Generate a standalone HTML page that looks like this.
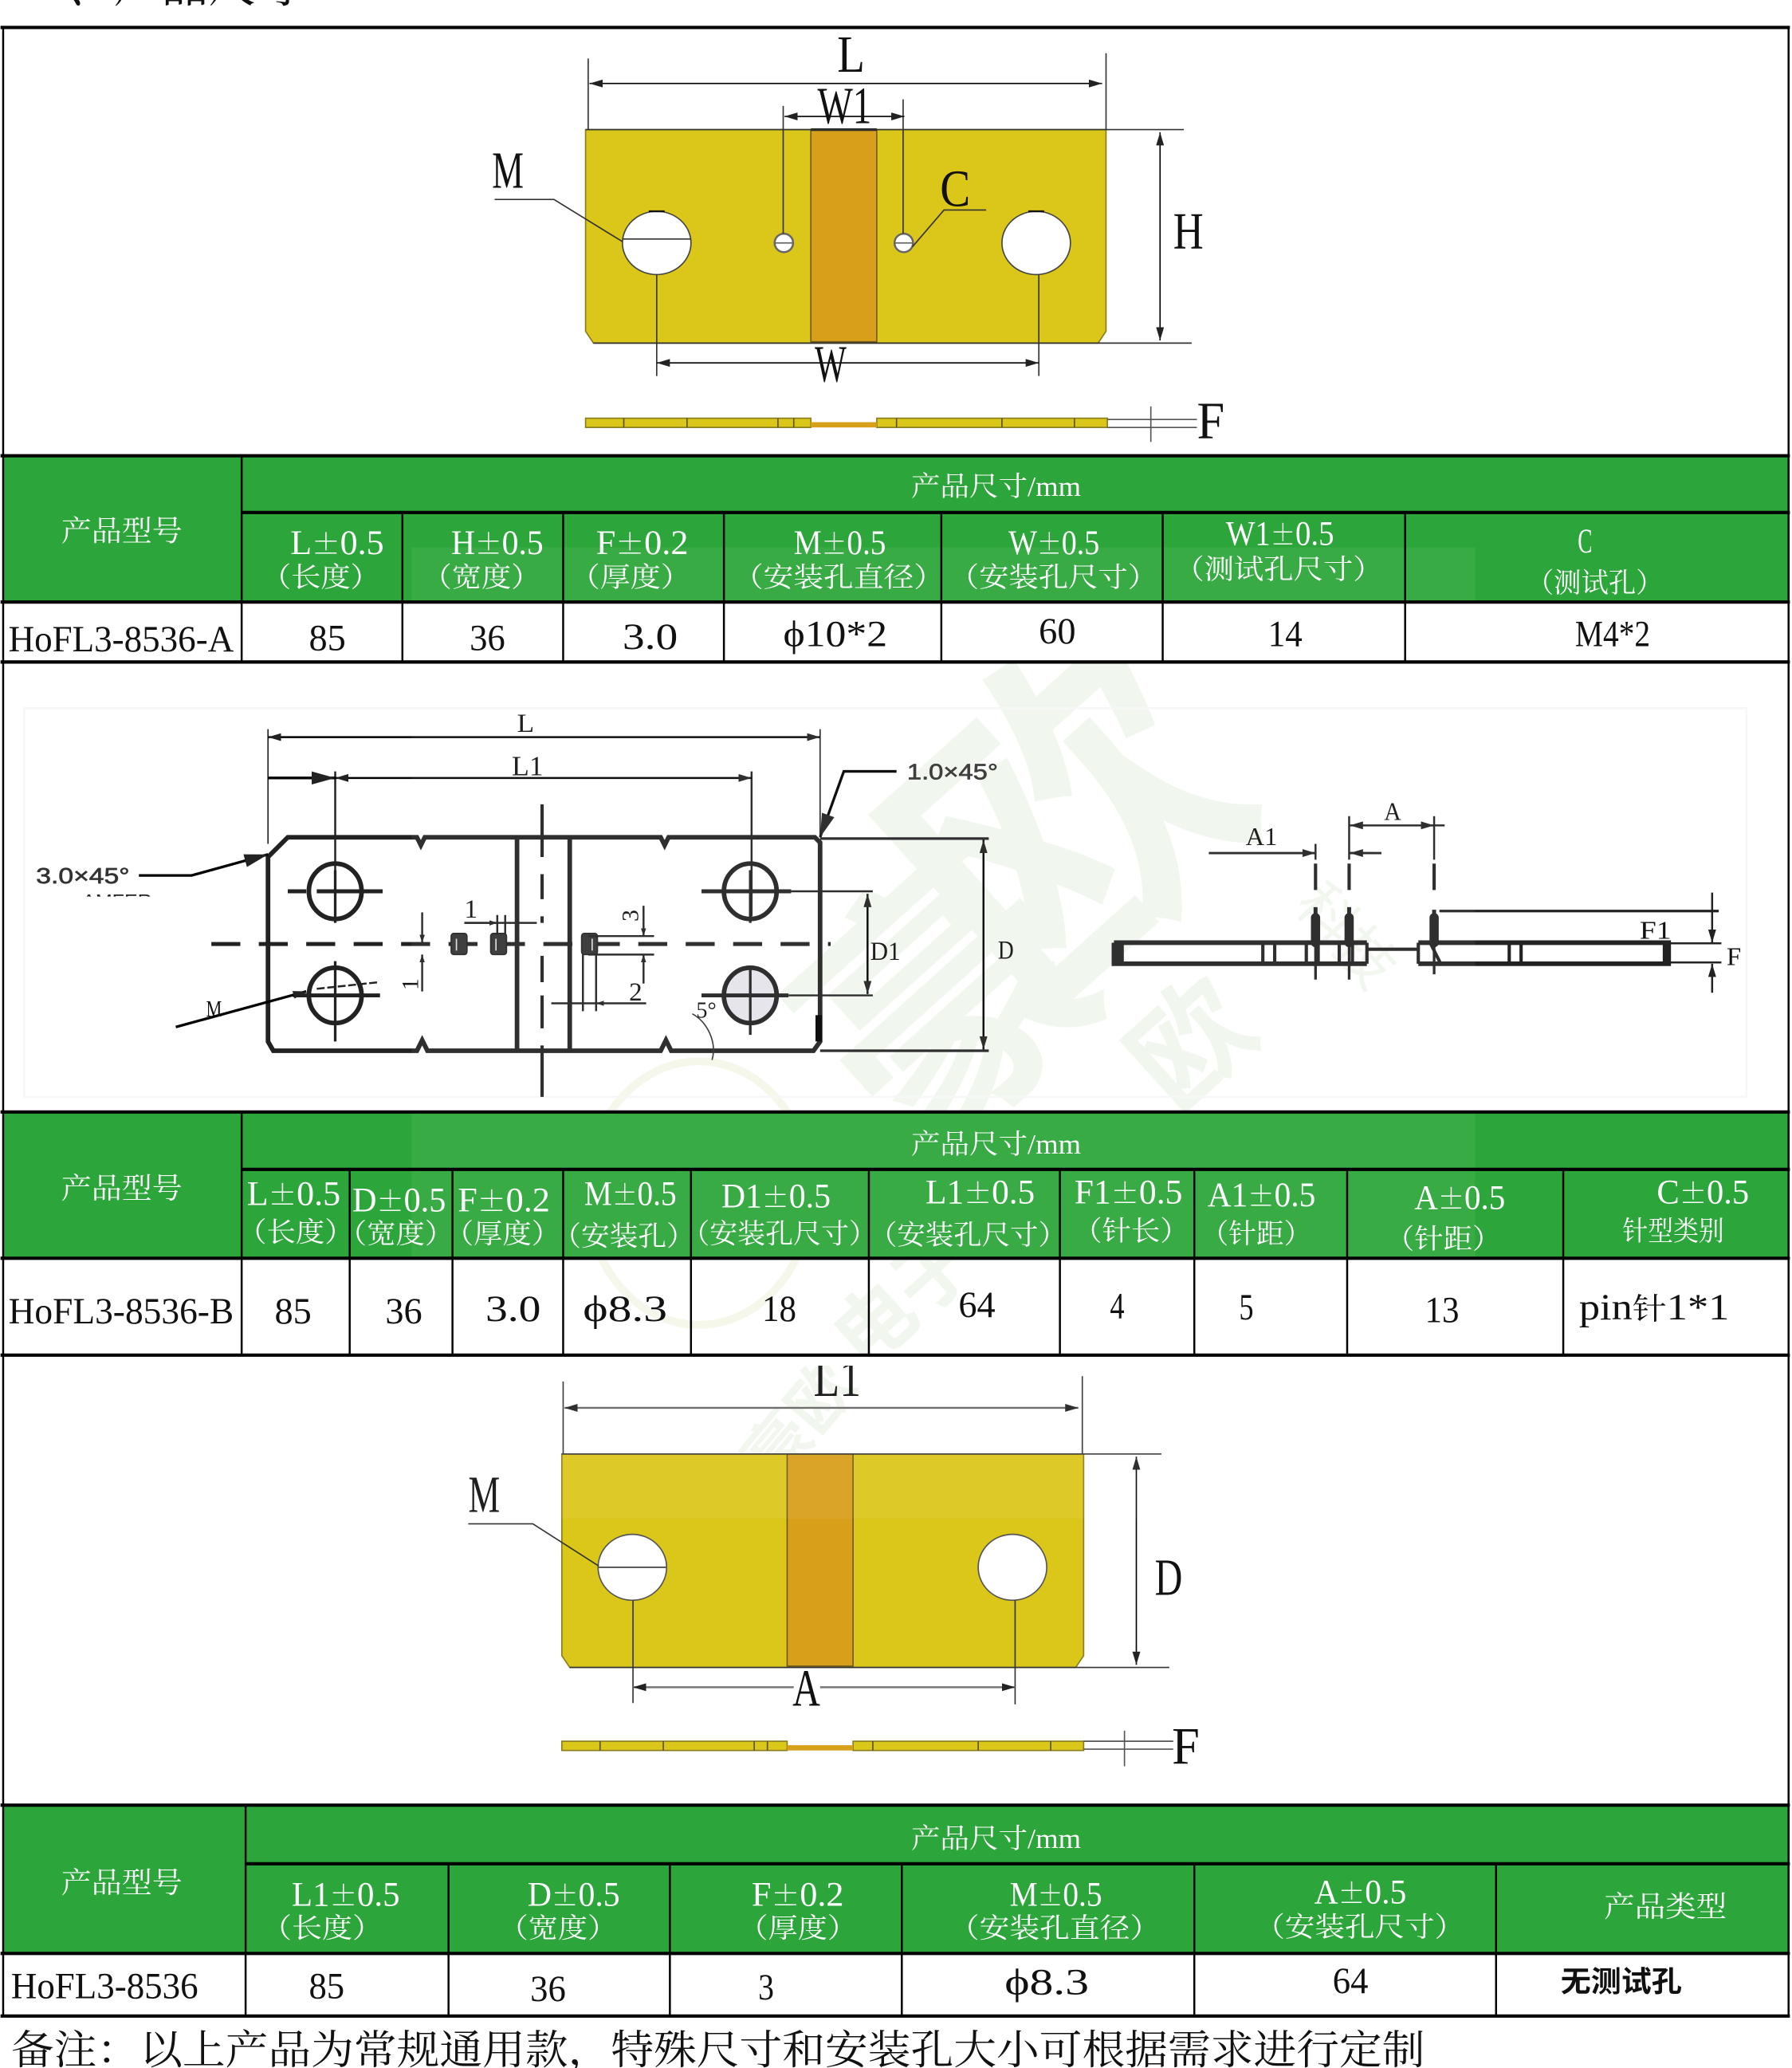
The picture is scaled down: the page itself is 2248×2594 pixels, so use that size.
<!DOCTYPE html>
<html><head><meta charset="utf-8"><style>
html,body{margin:0;padding:0;background:#fff}
svg{display:block}
text{font-family:"Liberation Serif","Noto Serif CJK SC",serif}
.h{fill:#fff;font-size:21px}
.d{fill:#111;font-size:28px}
.n{font-size:26px}
.p{font-family:"Noto Serif CJK SC",serif;font-size:21px}
.c{font-size:23px;font-family:"Noto Serif CJK SC",serif}
.l{fill:#111}
.wm{fill:#f1f7ee;font-family:"Noto Sans CJK SC",sans-serif;font-weight:700;text-anchor:middle}
.k{stroke:#000;fill:none}
.t{stroke:#333;stroke-width:1;fill:none}
.b{stroke:#222;stroke-width:2;fill:none}
</style></head><body>
<svg xmlns="http://www.w3.org/2000/svg" width="2248" height="2594" viewBox="0 0 1360 1569">
<defs>
<marker id="a" viewBox="0 0 10 6" refX="10" refY="3" markerWidth="10" markerHeight="6" markerUnits="userSpaceOnUse" orient="auto-start-reverse"><path d="M0 0L10 3L0 6z" fill="#222"/></marker>
<marker id="s" viewBox="0 0 6 4" refX="6" refY="2" markerWidth="6" markerHeight="4" markerUnits="userSpaceOnUse" orient="auto-start-reverse"><path d="M0 0L6 2L0 4z" fill="#222"/></marker>
<marker id="B" viewBox="0 0 18 10" refX="18" refY="5" markerWidth="18" markerHeight="10" markerUnits="userSpaceOnUse" orient="auto"><path d="M0 0L18 5L0 10z" fill="#222"/></marker>
<clipPath id="cp"><rect x="40" y="674" width="100" height="6"/></clipPath>
<clipPath id="wmc"><rect x="3" y="503" width="1353" height="340"/><rect x="3" y="956" width="1353" height="198"/></clipPath>
</defs>
<rect width="1360" height="1569" fill="#fff"/>
<g transform="translate(0.400,0.200)">
<text x="14" y="1" font-size="36" fill="#111">二、产品尺寸</text>

<!-- green header blocks -->
<rect x="2" y="346" width="1355" height="110" fill="#2ca63a"/>
<rect x="2" y="844" width="1355" height="110" fill="#2ca63a"/>
<rect x="2" y="1370" width="1355" height="112" fill="#2ca63a"/>

<!-- watermark -->
<g clip-path="url(#wmc)">
<text class="wm" font-size="250" transform="translate(870,690) rotate(-42)">欧</text>
<text class="wm" font-size="210" transform="translate(770,815) rotate(-42)">豪</text>
<text class="wm" font-size="90" transform="translate(925,815) rotate(-42)">欧</text>
<text class="wm" font-size="44" style="font-weight:400" transform="translate(1010,720) rotate(48)">科技</text>
<text class="wm" font-size="60" transform="translate(700,1000) rotate(-42)">电子</text>
<text class="wm" font-size="50" transform="translate(620,1090) rotate(-50)">豪欧</text>
<ellipse cx="530" cy="905" rx="85" ry="100" fill="none" stroke="#f5f7ea" stroke-width="6"/>
</g>

<!-- DIAGRAM 1 -->
<path d="M444 98H839V251L833 260H450L444 251Z" fill="#dbc61a" stroke="#8a7d20" stroke-width="1"/>
<rect x="615" y="98" width="50" height="161" fill="#d89f1b" stroke="#6d5a1a" stroke-width="1"/>
<rect x="615" y="97" width="50" height="2" fill="#222"/>
<ellipse cx="498" cy="184" rx="26" ry="24" fill="#fff" stroke="#444" stroke-width="1"/>
<ellipse cx="786" cy="184" rx="26" ry="24" fill="#fff" stroke="#444" stroke-width="1"/>
<path d="M492 160h12M780 160h12" stroke="#111" stroke-width="1.500"/>
<circle cx="594.500" cy="184" r="7" fill="#fff" stroke="#666" stroke-width="1.500"/>
<circle cx="685.500" cy="184" r="7" fill="#fff" stroke="#666" stroke-width="1.500"/>
<path d="M588 184h13M679 184h13" stroke="#666"/>
<g class="t">
<path d="M446 44V98M839 40V98M594 80V177M685 75V177M444 98H898M450 260H904M498 208V285M788 208V285"/>
<path d="M375 151H420L472 183M472 181H524M748 159H716L692 187"/>
</g>
<g class="k" stroke-width="1" marker-start="url(#a)" marker-end="url(#a)">
<path d="M447 63H836"/><path d="M595 88H686"/><path d="M498 275H788"/><path d="M880 100V258"/>
</g>
<text class="l" x="635" y="54" font-size="40" textLength="21" lengthAdjust="spacingAndGlyphs">L</text>
<text class="l" x="620" y="93" font-size="40" textLength="41" lengthAdjust="spacingAndGlyphs">W1</text>
<text class="l" x="373" y="142" font-size="40" textLength="24" lengthAdjust="spacingAndGlyphs">M</text>
<text class="l" x="713" y="156" font-size="40" textLength="23" lengthAdjust="spacingAndGlyphs">C</text>
<text class="l" x="890" y="188" font-size="40" textLength="23" lengthAdjust="spacingAndGlyphs">H</text>
<text class="l" x="618" y="289" font-size="40" textLength="24" lengthAdjust="spacingAndGlyphs">W</text>
<text class="l" x="908" y="332" font-size="40" textLength="21" lengthAdjust="spacingAndGlyphs">F</text>
<!-- side 1 -->
<rect x="444" y="317" width="171" height="7" fill="#dbc61a" stroke="#8a7d20" stroke-width="1"/>
<rect x="665" y="317" width="175" height="7" fill="#dbc61a" stroke="#8a7d20" stroke-width="1"/>
<rect x="615" y="320" width="50" height="4" fill="#d89f1b"/>
<path d="M473 317v7M521 317v7M590 317v7M602 317v7M680 317v7M760 317v7M815 317v7" stroke="#5a5218" stroke-width="1"/>
<path d="M840 318H908M840 324H908M873 308V335" stroke="#555" stroke-width="1" fill="none"/>

<!-- DIAGRAM 2 -->
<rect x="18" y="537" width="1307" height="295" fill="none" stroke="#f7f7f7" stroke-width="1.500"/>
<g class="b">
<path d="M203 553V640M622 553V635" stroke-width="1"/>
<path d="M254 585V695M570 585V695" stroke-width="1.500"/>
</g>
<path d="M203 559H622" class="k" stroke-width="1.500" marker-start="url(#a)" marker-end="url(#a)"/>
<path d="M254 590H570" class="k" stroke-width="1.500" marker-start="url(#a)" marker-end="url(#a)"/>
<path d="M203 590H254" class="k" stroke-width="2" marker-end="url(#B)"/>
<text class="l" x="392" y="555" font-size="20" textLength="13" lengthAdjust="spacingAndGlyphs">L</text>
<text class="l" x="388" y="588" font-size="21" textLength="24" lengthAdjust="spacingAndGlyphs">L1</text>
<!-- plate -->
<path d="M218 635H316l3 6 3-6H501l3 6 3-6H618L622 639V790L617 797H509l-4-8-4 8H324l-4-8-4 8H207L203 790V650Z" fill="none" stroke="#222" stroke-width="3.500"/>
<path d="M392 635V797M432 635V797" stroke="#222" stroke-width="3.500"/>
<path d="M621 770V790" stroke="#000" stroke-width="5"/>
<path d="M411 610V650M411 663V682M411 695V700M411 725V745M411 755V780M411 793V832" stroke="#222" stroke-width="2.500" fill="none"/>
<path d="M160 716H630" stroke="#222" stroke-width="3" stroke-dasharray="22 14" fill="none"/>
<!-- holes -->
<ellipse cx="569" cy="755" rx="20" ry="22" fill="#e4e4ea"/>
<g fill="none" stroke="#222" stroke-width="3.500">
<ellipse cx="254" cy="676" rx="20" ry="21"/><ellipse cx="254" cy="755" rx="20" ry="21"/>
<ellipse cx="569" cy="676" rx="20" ry="21"/><ellipse cx="569" cy="755" rx="20" ry="21"/>
</g>
<g stroke="#222" stroke-width="3" fill="none">
<path d="M218 676H232M240 676H290M222 755H288M532 676H600M532 755H598"/>
</g>
<g stroke="#222" stroke-width="2" fill="none">
<path d="M254 660V700M254 729V790M569 660V700M569 735V785"/>
<path d="M600 676H662M598 755H662" stroke-width="1.500"/>
<path d="M622 636H750M622 797H750" stroke-width="2"/>
</g>
<path d="M658 678V754" class="k" stroke-width="1.500" marker-start="url(#a)" marker-end="url(#a)"/>
<path d="M746 637V796" class="k" stroke-width="1.500" marker-start="url(#a)" marker-end="url(#a)"/>
<text class="l" x="660" y="728" font-size="20" textLength="23" lengthAdjust="spacingAndGlyphs">D1</text>
<text class="l" x="757" y="727" font-size="20" textLength="12" lengthAdjust="spacingAndGlyphs">D</text>
<path d="M680 585H640L622 635" class="k" stroke-width="2" marker-end="url(#B)"/>
<text x="688" y="591" font-size="17" fill="#333" stroke="#333" stroke-width=".4" style="font-family:'Liberation Sans',sans-serif" textLength="69" lengthAdjust="spacingAndGlyphs">1.0×45°</text>
<path d="M105 664H145L203 648" class="k" stroke-width="2" marker-end="url(#B)"/>
<text x="27" y="670" font-size="17" fill="#333" stroke="#333" stroke-width=".4" style="font-family:'Liberation Sans',sans-serif" textLength="71" lengthAdjust="spacingAndGlyphs">3.0×45°</text>
<text clip-path="url(#cp)" x="62" y="688" font-size="14" fill="#222" style="font-family:'Liberation Sans',sans-serif" textLength="53" lengthAdjust="spacingAndGlyphs">AMFER</text>
<path d="M133 779L232 752" class="k" stroke-width="2" marker-end="url(#a)"/>
<path d="M240 750L287 745" stroke="#222" stroke-width="1.500" stroke-dasharray="6 2"/>
<text class="l" x="156" y="771" font-size="17" textLength="12" lengthAdjust="spacingAndGlyphs">M</text>
<!-- pins -->
<g fill="#333" stroke="#222"><rect x="342" y="708" width="12" height="16" rx="2"/><rect x="372" y="708" width="12" height="16" rx="2"/><rect x="441" y="708" width="12" height="16" rx="2"/></g>
<path d="M346 712v9M376 712v9M449 712v9" stroke="#ddd" stroke-width="1"/>
<path d="M320 692V715" stroke="#222" stroke-width="1.500" marker-end="url(#s)"/>
<path d="M320 752V724" stroke="#222" stroke-width="1.500" marker-end="url(#s)"/>
<path d="M352 700H407M377 694V709M383 694V709" stroke="#222" stroke-width="1.500" fill="none"/>
<path d="M352 700H377" stroke="#222" stroke-width="1.500" marker-end="url(#s)"/>
<text class="l" x="352" y="696" font-size="20">1</text>
<text class="l" font-size="18" transform="translate(317,751) rotate(-90)">1</text>
<text class="l" font-size="18" transform="translate(484,699) rotate(-90)">3</text>
<path d="M488 687V710" stroke="#222" stroke-width="1.500" marker-end="url(#s)"/>
<path d="M488 746V724" stroke="#222" stroke-width="1.500" marker-end="url(#s)"/>
<path d="M446 710H496M446 724H496" stroke="#222" stroke-width="1.500" fill="none"/>
<path d="M418 761H452M442 724V767M452 724V767" stroke="#222" stroke-width="1.500" fill="none"/>
<path d="M490 761H452" stroke="#222" stroke-width="1.500" marker-end="url(#s)"/>
<text class="l" x="477" y="759" font-size="20">2</text>
<text class="l" x="528" y="772" font-size="17">5°</text>
<path d="M525 769C536 775 544 790 540 804" class="t" stroke-width="1.500"/>
<!-- side view -->
<g fill="none" stroke="#222">
<path d="M845 715H1037M1076 715H1266V731H1076M1037 731H845V715" stroke-width="3.500"/>
<path d="M1037 715V731M1037 720H1076M1076 715V731" stroke-width="2.500"/>
<path d="M848 715V731M851 715V731M1263 715V731M1266 715V731" stroke-width="3"/>
<path d="M958 715V731M967 715V731M991 715V731M1000 715V731M1016 715V731M1026 715V731M1085 715L1093 731M1145 715V731M1154 715V731" stroke-width="2.500"/>
<path d="M998 696V715M1023.500 696V715M1088 696V715" stroke-width="7" stroke-linecap="round"/>
<path d="M998 688V700M1023.500 688V700M1088 690V700" stroke-width="3"/>
<path d="M998 640V652M1023.500 619V652M1088 619V652" stroke-width="1.500"/>
<path d="M998 655V675M1023.500 655V675M1088 655V675" stroke-width="2.500"/>
<path d="M998 715V743M1023.500 715V743M1088 715V739" stroke-width="2"/>
<path d="M917 647H998" stroke-width="1.800" marker-end="url(#a)"/>
<path d="M1023.500 647H1048" stroke-width="1.800"/>
<path d="M1041 647H1024" stroke-width="1.500" marker-end="url(#a)"/>
<path d="M1024 626H1088" stroke-width="1.500" marker-start="url(#a)" marker-end="url(#a)"/>
<path d="M1088 626H1096" stroke-width="1.500"/>
<path d="M1092 691H1304" stroke-width="2"/>
<path d="M1267 715.500H1306M1267 730H1306" stroke-width="1.500"/>
<path d="M1299 677V715" stroke-width="1.500" marker-end="url(#a)"/>
<path d="M1299 753V731" stroke-width="1.500" marker-end="url(#a)"/>
</g>
<text class="l" x="945" y="641" font-size="19" textLength="24" lengthAdjust="spacingAndGlyphs">A1</text>
<text class="l" x="1050" y="622" font-size="19" textLength="13" lengthAdjust="spacingAndGlyphs">A</text>
<text class="l" x="1244" y="712" font-size="19" textLength="24" lengthAdjust="spacingAndGlyphs">F1</text>
<text class="l" x="1310" y="732" font-size="19" textLength="11" lengthAdjust="spacingAndGlyphs">F</text>

<!-- DIAGRAM 3 -->
<path d="M426 1103H822V1256L816 1265H432L426 1256Z" fill="#dbc61a" stroke="#8a7d20" stroke-width="1"/>
<rect x="597" y="1103" width="50" height="161" fill="#d89f1b" stroke="#6d5a1a" stroke-width="1"/>
<ellipse cx="479.500" cy="1189" rx="26" ry="25" fill="#fff" stroke="#555" stroke-width="1"/>
<ellipse cx="768" cy="1189" rx="26" ry="25" fill="#fff" stroke="#555" stroke-width="1"/>
<g class="t">
<path d="M427 1048V1103M821 1044V1103M426 1103H881M432 1265H887M480 1214V1292M770 1214V1293"/>
<path d="M355 1156H404L454 1188M454 1189H505"/>
</g>
<path d="M428 1068H818" stroke="#666" stroke-width="1.500" fill="none" marker-start="url(#a)" marker-end="url(#a)"/>
<path d="M480 1280H770" stroke="#777" stroke-width="1.500" fill="none" marker-start="url(#a)" marker-end="url(#a)"/>
<path d="M862 1105V1263" class="k" stroke-width="1" marker-start="url(#a)" marker-end="url(#a)"/>
<rect x="602" y="1268" width="20" height="26" fill="#fff"/>
<text class="l" x="617" y="1059" font-size="40" textLength="36" lengthAdjust="spacingAndGlyphs">L1</text>
<rect x="610" y="1029" width="50" height="7" fill="#fff"/>
<text class="l" x="355" y="1147" font-size="40" textLength="24" lengthAdjust="spacingAndGlyphs">M</text>
<text class="l" x="876" y="1210" font-size="40" textLength="21" lengthAdjust="spacingAndGlyphs">D</text>
<text class="l" x="601" y="1294" font-size="40" textLength="21" lengthAdjust="spacingAndGlyphs">A</text>
<text class="l" x="889" y="1338" font-size="40" textLength="21" lengthAdjust="spacingAndGlyphs">F</text>
<rect x="426" y="1321" width="171" height="7" fill="#dbc61a" stroke="#8a7d20" stroke-width="1"/>
<rect x="647" y="1321" width="175" height="7" fill="#dbc61a" stroke="#8a7d20" stroke-width="1"/>
<rect x="597" y="1324" width="50" height="4" fill="#d89f1b"/>
<path d="M455 1321v7M503 1321v7M572 1321v7M582 1321v7M662 1321v7M742 1321v7M797 1321v7" stroke="#5a5218" stroke-width="1"/>
<path d="M822 1321H890M822 1327H890M853 1313V1340" stroke="#555" stroke-width="1" fill="none"/>

<!-- lighter overlay from watermark -->
<rect x="312" y="415" width="807" height="737" fill="#fff" fill-opacity=".06"/>

<!-- Table lines -->
<g stroke="#000" fill="none">
<path d="M2 20V1530M1357 20V1530" stroke-width="1.500"/>
<path d="M0 20.500H1358M0 345.500H1358M183 388.500H1358M0 456.500H1358M0 502H1358M0 843.500H1358M183 887H1358M0 954.500H1358M0 1028H1358M0 1369.500H1358M186 1414H1358M0 1482H1358M0 1529.500H1358" stroke-width="2.500"/>
<path d="M183 345V502M305 388V502M427 388V502M549 388V502M714 388V502M882 388V502M1066 388V502" stroke-width="1.500"/>
<path d="M183 844V1028M265 887V1028M343 887V1028M427 887V1028M524 887V1028M659 887V1028M804 887V1028M906 887V1028M1022 887V1028M1186 887V1028" stroke-width="1.500"/>
<path d="M186 1370V1529M340 1414V1529M508 1414V1529M684 1414V1529M906 1414V1529M1135 1414V1529" stroke-width="1.500"/>
</g>

<!-- Table A text -->
<g class="h">
<text x="691" y="376" textLength="129" lengthAdjust="spacingAndGlyphs">产品尺寸/mm</text>
<text x="46" y="410" font-size="22" textLength="92" lengthAdjust="spacingAndGlyphs">产品型号</text>
<text class="n" x="220" y="420" textLength="71" lengthAdjust="spacingAndGlyphs">L<tspan class="p">±</tspan>0.5</text>
<text class="n" x="342" y="420" textLength="70" lengthAdjust="spacingAndGlyphs">H<tspan class="p">±</tspan>0.5</text>
<text class="n" x="452" y="420" textLength="70" lengthAdjust="spacingAndGlyphs">F<tspan class="p">±</tspan>0.2</text>
<text class="n" x="602" y="420" textLength="70" lengthAdjust="spacingAndGlyphs">M<tspan class="p">±</tspan>0.5</text>
<text class="n" x="765" y="420" textLength="69" lengthAdjust="spacingAndGlyphs">W<tspan class="p">±</tspan>0.5</text>
<text class="n" x="930" y="413" textLength="82" lengthAdjust="spacingAndGlyphs">W1<tspan class="p">±</tspan>0.5</text>
<text class="n" x="1197" y="419" textLength="11" lengthAdjust="spacingAndGlyphs">C</text>
<text x="198" y="445" textLength="90" lengthAdjust="spacingAndGlyphs">（长度）</text>
<text x="320" y="445" textLength="90" lengthAdjust="spacingAndGlyphs">（宽度）</text>
<text x="432" y="445" textLength="92" lengthAdjust="spacingAndGlyphs">（厚度）</text>
<text x="556" y="445" textLength="160" lengthAdjust="spacingAndGlyphs">（安装孔直径）</text>
<text x="720" y="445" textLength="158" lengthAdjust="spacingAndGlyphs">（安装孔尺寸）</text>
<text x="891" y="439" textLength="158" lengthAdjust="spacingAndGlyphs">（测试孔尺寸）</text>
<text x="1158" y="449" textLength="104" lengthAdjust="spacingAndGlyphs">（测试孔）</text>
</g>
<g class="d" transform="translate(0,1)">
<text x="6" y="493" textLength="171" lengthAdjust="spacingAndGlyphs">HoFL3-8536-A</text>
<text x="234" y="492" textLength="28" lengthAdjust="spacingAndGlyphs">85</text>
<text x="356" y="492" textLength="27" lengthAdjust="spacingAndGlyphs">36</text>
<text x="472" y="491" textLength="42" lengthAdjust="spacingAndGlyphs">3.0</text>
<text x="594" y="489" textLength="79" lengthAdjust="spacingAndGlyphs">ϕ10*2</text>
<text x="788" y="487" textLength="28" lengthAdjust="spacingAndGlyphs">60</text>
<text x="962" y="489" textLength="26" lengthAdjust="spacingAndGlyphs">14</text>
<text x="1195" y="489" textLength="57" lengthAdjust="spacingAndGlyphs">M4*2</text>
</g>

<!-- Table B text -->
<g class="h">
<text x="691" y="875" textLength="129" lengthAdjust="spacingAndGlyphs">产品尺寸/mm</text>
<text x="46" y="909" font-size="22" textLength="92" lengthAdjust="spacingAndGlyphs">产品型号</text>
<text class="n" x="187" y="914" textLength="71" lengthAdjust="spacingAndGlyphs">L<tspan class="p">±</tspan>0.5</text>
<text class="n" x="267" y="919" textLength="71" lengthAdjust="spacingAndGlyphs">D<tspan class="p">±</tspan>0.5</text>
<text class="n" x="347" y="919" textLength="70" lengthAdjust="spacingAndGlyphs">F<tspan class="p">±</tspan>0.2</text>
<text class="n" x="443" y="914" textLength="70" lengthAdjust="spacingAndGlyphs">M<tspan class="p">±</tspan>0.5</text>
<text class="n" x="547" y="916" textLength="83" lengthAdjust="spacingAndGlyphs">D1<tspan class="p">±</tspan>0.5</text>
<text class="n" x="702" y="913" textLength="83" lengthAdjust="spacingAndGlyphs">L1<tspan class="p">±</tspan>0.5</text>
<text class="n" x="815" y="913" textLength="82" lengthAdjust="spacingAndGlyphs">F1<tspan class="p">±</tspan>0.5</text>
<text class="n" x="916" y="915" textLength="82" lengthAdjust="spacingAndGlyphs">A1<tspan class="p">±</tspan>0.5</text>
<text class="n" x="1073" y="917" textLength="69" lengthAdjust="spacingAndGlyphs">A<tspan class="p">±</tspan>0.5</text>
<text class="n" x="1257" y="913" textLength="70" lengthAdjust="spacingAndGlyphs">C<tspan class="p">±</tspan>0.5</text>
<text x="180" y="942" textLength="88" lengthAdjust="spacingAndGlyphs">（长度）</text>
<text x="256" y="943" textLength="88" lengthAdjust="spacingAndGlyphs">（宽度）</text>
<text x="337" y="943" textLength="88" lengthAdjust="spacingAndGlyphs">（厚度）</text>
<text x="419" y="945" textLength="108" lengthAdjust="spacingAndGlyphs">（安装孔）</text>
<text x="517" y="943" textLength="148" lengthAdjust="spacingAndGlyphs">（安装孔尺寸）</text>
<text x="659" y="944" textLength="150" lengthAdjust="spacingAndGlyphs">（安装孔尺寸）</text>
<text x="814" y="941" textLength="88" lengthAdjust="spacingAndGlyphs">（针长）</text>
<text x="911" y="943" textLength="84" lengthAdjust="spacingAndGlyphs">（针距）</text>
<text x="1051" y="947" textLength="88" lengthAdjust="spacingAndGlyphs">（针距）</text>
<text x="1231" y="941" textLength="77" lengthAdjust="spacingAndGlyphs">针型类别</text>
</g>
<g class="d" transform="translate(0,1)">
<text x="6" y="1003" textLength="171" lengthAdjust="spacingAndGlyphs">HoFL3-8536-B</text>
<text x="208" y="1003" textLength="28" lengthAdjust="spacingAndGlyphs">85</text>
<text x="292" y="1003" textLength="28" lengthAdjust="spacingAndGlyphs">36</text>
<text x="368" y="1001" textLength="42" lengthAdjust="spacingAndGlyphs">3.0</text>
<text x="442" y="1001" textLength="64" lengthAdjust="spacingAndGlyphs">ϕ8.3</text>
<text x="578" y="1001" textLength="26" lengthAdjust="spacingAndGlyphs">18</text>
<text x="727" y="998" textLength="28" lengthAdjust="spacingAndGlyphs">64</text>
<text x="842" y="999" textLength="11" lengthAdjust="spacingAndGlyphs">4</text>
<text x="940" y="1000" textLength="11" lengthAdjust="spacingAndGlyphs">5</text>
<text x="1081" y="1002" textLength="26" lengthAdjust="spacingAndGlyphs">13</text>
<text x="1198" y="1000" textLength="114" lengthAdjust="spacingAndGlyphs">pin<tspan class="c">针</tspan>1*1</text>
</g>

<!-- Table C text -->
<g class="h">
<text x="691" y="1402" textLength="129" lengthAdjust="spacingAndGlyphs">产品尺寸/mm</text>
<text x="46" y="1436" font-size="22" textLength="92" lengthAdjust="spacingAndGlyphs">产品型号</text>
<text class="n" x="221" y="1446" textLength="82" lengthAdjust="spacingAndGlyphs">L1<tspan class="p">±</tspan>0.5</text>
<text class="n" x="400" y="1446" textLength="70" lengthAdjust="spacingAndGlyphs">D<tspan class="p">±</tspan>0.5</text>
<text class="n" x="570" y="1446" textLength="70" lengthAdjust="spacingAndGlyphs">F<tspan class="p">±</tspan>0.2</text>
<text class="n" x="766" y="1446" textLength="70" lengthAdjust="spacingAndGlyphs">M<tspan class="p">±</tspan>0.5</text>
<text class="n" x="997" y="1444" textLength="70" lengthAdjust="spacingAndGlyphs">A<tspan class="p">±</tspan>0.5</text>
<text x="198" y="1470" textLength="92" lengthAdjust="spacingAndGlyphs">（长度）</text>
<text x="378" y="1470" textLength="90" lengthAdjust="spacingAndGlyphs">（宽度）</text>
<text x="560" y="1470" textLength="90" lengthAdjust="spacingAndGlyphs">（厚度）</text>
<text x="720" y="1470" textLength="160" lengthAdjust="spacingAndGlyphs">（安装孔直径）</text>
<text x="952" y="1469" textLength="159" lengthAdjust="spacingAndGlyphs">（安装孔尺寸）</text>
<text x="1217" y="1454" font-size="22" textLength="93" lengthAdjust="spacingAndGlyphs">产品类型</text>
</g>
<g class="d" transform="translate(0,1)">
<text x="8" y="1515" textLength="142" lengthAdjust="spacingAndGlyphs">HoFL3-8536</text>
<text x="234" y="1515" textLength="27" lengthAdjust="spacingAndGlyphs">85</text>
<text x="402" y="1517" textLength="27" lengthAdjust="spacingAndGlyphs">36</text>
<text x="575" y="1516" textLength="12" lengthAdjust="spacingAndGlyphs">3</text>
<text x="762" y="1512" textLength="64" lengthAdjust="spacingAndGlyphs">ϕ8.3</text>
<text x="1011" y="1511" textLength="27" lengthAdjust="spacingAndGlyphs">64</text>
<text x="1184" y="1510" font-size="22" font-weight="700" style="font-family:'Noto Sans CJK SC',sans-serif" textLength="92" lengthAdjust="spacingAndGlyphs">无测试孔</text>
</g>
<text x="8" y="1566" font-size="31" fill="#111" textLength="1073" lengthAdjust="spacingAndGlyphs">备注：以上产品为常规通用款，特殊尺寸和安装孔大小可根据需求进行定制</text>
</g>
</svg>
</body></html>
